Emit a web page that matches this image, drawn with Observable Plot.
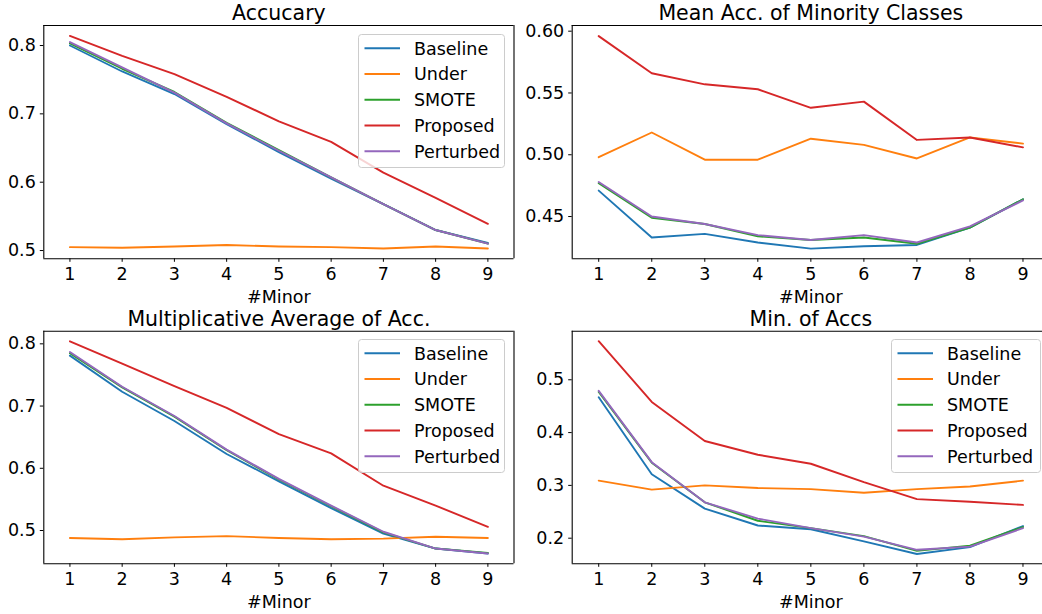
<!DOCTYPE html>
<html>
<head>
<meta charset="utf-8">
<script src="https://cdn.jsdelivr.net/npm/d3@7"></script>
<script src="https://cdn.jsdelivr.net/npm/@observablehq/plot@0.6"></script>
<style>
  html, body { margin: 0; padding: 0; background: #fff; overflow: hidden; }
  #root { position: relative; width: 1042px; height: 614px; overflow: hidden; background: #fff; font-family: "DejaVu Sans", sans-serif; }
  .panel { position: absolute; overflow: hidden; }
  .panel svg { max-width: none !important; display: block; }
  .legend { position: absolute; }
</style>
</head>
<body>
<div id="root"></div>
<script>
// ---------- data ----------
const minor = [1, 2, 3, 4, 5, 6, 7, 8, 9];
const seriesNames = ["Baseline", "Under", "SMOTE", "Proposed", "Perturbed"];
const seriesColors = ["#1f77b4", "#ff7f0e", "#2ca02c", "#d62728", "#9467bd"];

// Accucary
const accBaseline  = [0.800, 0.762, 0.729, 0.685, 0.644, 0.605, 0.568, 0.530, 0.511];
const accUnder     = [0.505, 0.504, 0.506, 0.508, 0.506, 0.505, 0.503, 0.506, 0.503];
const accSMOTE     = [0.803, 0.766, 0.732, 0.687, 0.647, 0.607, 0.568, 0.530, 0.510];
const accProposed  = [0.814, 0.785, 0.758, 0.725, 0.689, 0.659, 0.614, 0.577, 0.539];
const accPerturbed = [0.805, 0.768, 0.731, 0.686, 0.646, 0.607, 0.568, 0.530, 0.510];

// Mean Acc. of Minority Classes
const meanBaseline  = [0.471, 0.433, 0.436, 0.429, 0.424, 0.426, 0.427, 0.441, 0.464];
const meanUnder     = [0.498, 0.518, 0.496, 0.496, 0.513, 0.508, 0.497, 0.514, 0.509];
const meanSMOTE     = [0.477, 0.449, 0.444, 0.434, 0.431, 0.433, 0.428, 0.441, 0.464];
const meanProposed  = [0.596, 0.566, 0.557, 0.553, 0.538, 0.543, 0.512, 0.514, 0.506];
const meanPerturbed = [0.478, 0.450, 0.444, 0.435, 0.431, 0.435, 0.429, 0.442, 0.463];

// Multiplicative Average of Acc.
const multBaseline  = [0.781, 0.723, 0.676, 0.623, 0.579, 0.536, 0.495, 0.471, 0.463];
const multUnder     = [0.488, 0.486, 0.489, 0.491, 0.488, 0.486, 0.487, 0.490, 0.488];
const multSMOTE     = [0.785, 0.730, 0.683, 0.629, 0.582, 0.539, 0.497, 0.471, 0.464];
const multProposed  = [0.804, 0.768, 0.732, 0.697, 0.655, 0.624, 0.572, 0.540, 0.506];
const multPerturbed = [0.787, 0.731, 0.684, 0.630, 0.583, 0.540, 0.498, 0.471, 0.463];

// Min. of Accs
const minBaseline  = [0.467, 0.321, 0.256, 0.224, 0.217, 0.194, 0.170, 0.183, 0.223];
const minUnder     = [0.309, 0.292, 0.300, 0.295, 0.293, 0.286, 0.293, 0.298, 0.309];
const minSMOTE     = [0.477, 0.343, 0.268, 0.233, 0.219, 0.204, 0.176, 0.186, 0.221];
const minProposed  = [0.573, 0.458, 0.384, 0.358, 0.341, 0.306, 0.274, 0.269, 0.263];
const minPerturbed = [0.479, 0.344, 0.268, 0.237, 0.219, 0.203, 0.178, 0.184, 0.219];

const titles = ["Accucary", "Mean Acc. of Minority Classes", "Multiplicative Average of Acc.", "Min. of Accs"];
const xLabel = "#Minor";
const xDomain = [0.5, 9.5];
const ticksTL = [0.5, 0.6, 0.7, 0.8];
const ticksTR = [0.45, 0.50, 0.55, 0.60];
const ticksBL = [0.5, 0.6, 0.7, 0.8];
const ticksBR = [0.2, 0.3, 0.4, 0.5];

// ---------- build ----------
function rowsOf(arrays) {
  const rows = [];
  arrays.forEach((vals, i) => vals.forEach((v, j) => rows.push({x: minor[j], y: v, s: seriesNames[i]})));
  return rows;
}

const root = document.getElementById("root");

function panel(cfg) {
  const rows = rowsOf(cfg.arrays);
  const spineX = cfg.rightSpine ? xDomain : [xDomain[0]];
  const chart = Plot.plot({
    width: cfg.width, height: cfg.height,
    marginLeft: cfg.ml, marginRight: cfg.mr, marginTop: cfg.mt, marginBottom: cfg.mb,
    style: {fontFamily: "DejaVu Sans", fontSize: "17.5px", background: "transparent", overflow: "hidden", color: "#000", maxWidth: "none"},
    x: {domain: xDomain, ticks: minor, tickFormat: d => String(d), tickSize: 3.5, tickPadding: 5.5, label: null},
    y: {domain: cfg.yDomain, ticks: cfg.ticks, tickFormat: d3.format(cfg.fmt), tickSize: 3.5, tickPadding: 4.5, label: null},
    color: {domain: seriesNames, range: seriesColors},
    marks: [
      Plot.line(rows, {x: "x", y: "y", z: "s", stroke: "s", strokeWidth: 1.9}),
      Plot.ruleX(spineX, {stroke: "#000", strokeWidth: 1.1}),
      Plot.ruleY(cfg.yDomain, {stroke: "#000", strokeWidth: 1.1}),
      Plot.text([cfg.title], {text: d => d, frameAnchor: "top", lineAnchor: "bottom", dy: -5.5, fontSize: 20.5, fill: "#000"}),
      Plot.text([xLabel], {text: d => d, frameAnchor: "bottom", lineAnchor: "bottom", dy: 44.5, fontSize: 17.5, fill: "#000"})
    ]
  });
  const wrap = document.createElement("div");
  wrap.className = "panel";
  wrap.style.left = cfg.left + "px";
  wrap.style.top = cfg.top + "px";
  wrap.style.width = cfg.width + "px";
  wrap.style.height = cfg.height + "px";
  wrap.appendChild(chart);
  root.appendChild(wrap);
}

function legend(left, top, w, h) {
  const div = document.createElement("div");
  div.className = "legend";
  div.style.left = left + "px";
  div.style.top = top + "px";
  root.appendChild(div);
  const svg = d3.select(div).append("svg").attr("width", w).attr("height", h).style("display", "block");
  svg.append("rect").attr("x", 0.5).attr("y", 0.5).attr("width", w - 1).attr("height", h - 1)
    .attr("rx", 3).attr("fill", "rgba(255,255,255,0.8)").attr("stroke", "#cccccc").attr("stroke-width", 1);
  const g = svg.selectAll("g").data(seriesNames).join("g")
    .attr("transform", (d, i) => `translate(0,${14.3 + i * 25.75})`);
  g.append("line").attr("x1", 6.5).attr("x2", 42).attr("stroke", (d, i) => seriesColors[i]).attr("stroke-width", 1.9);
  g.append("text").attr("x", 56).attr("dy", "0.36em").attr("font-family", "DejaVu Sans").attr("font-size", 17.5)
    .attr("fill", "#000").text(d => d);
}

// right-hand panels: the axes box runs past the picture's right edge (negative right margin)
panel({title: titles[0], arrays: [accBaseline, accUnder, accSMOTE, accProposed, accPerturbed],
  yDomain: [0.4879, 0.8293], ticks: ticksTL, fmt: ".1f", rightSpine: true,
  left: 0, top: 0, width: 521, height: 314, ml: 43.3, mr: 7.5, mt: 25, mb: 55.7});
panel({title: titles[1], arrays: [meanBaseline, meanUnder, meanSMOTE, meanProposed, meanPerturbed],
  yDomain: [0.4158, 0.6046], ticks: ticksTR, fmt: ".2f", rightSpine: false,
  left: 521, top: 0, width: 521, height: 314, ml: 50.7, mr: -7, mt: 25, mb: 55.7});
panel({title: titles[2], arrays: [multBaseline, multUnder, multSMOTE, multProposed, multPerturbed],
  yDomain: [0.4465, 0.8203], ticks: ticksBL, fmt: ".1f", rightSpine: true,
  left: 0, top: 300, width: 521, height: 314, ml: 43.3, mr: 7.5, mt: 30.7, mb: 50.7});
panel({title: titles[3], arrays: [minBaseline, minUnder, minSMOTE, minProposed, minPerturbed],
  yDomain: [0.1515, 0.592], ticks: ticksBR, fmt: ".1f", rightSpine: false,
  left: 521, top: 300, width: 521, height: 314, ml: 50.7, mr: -7, mt: 30.7, mb: 50.7});

legend(358, 34, 147, 134);
legend(358, 339.3, 147, 134);
legend(891, 339.3, 150, 134);
</script>
</body>
</html>
